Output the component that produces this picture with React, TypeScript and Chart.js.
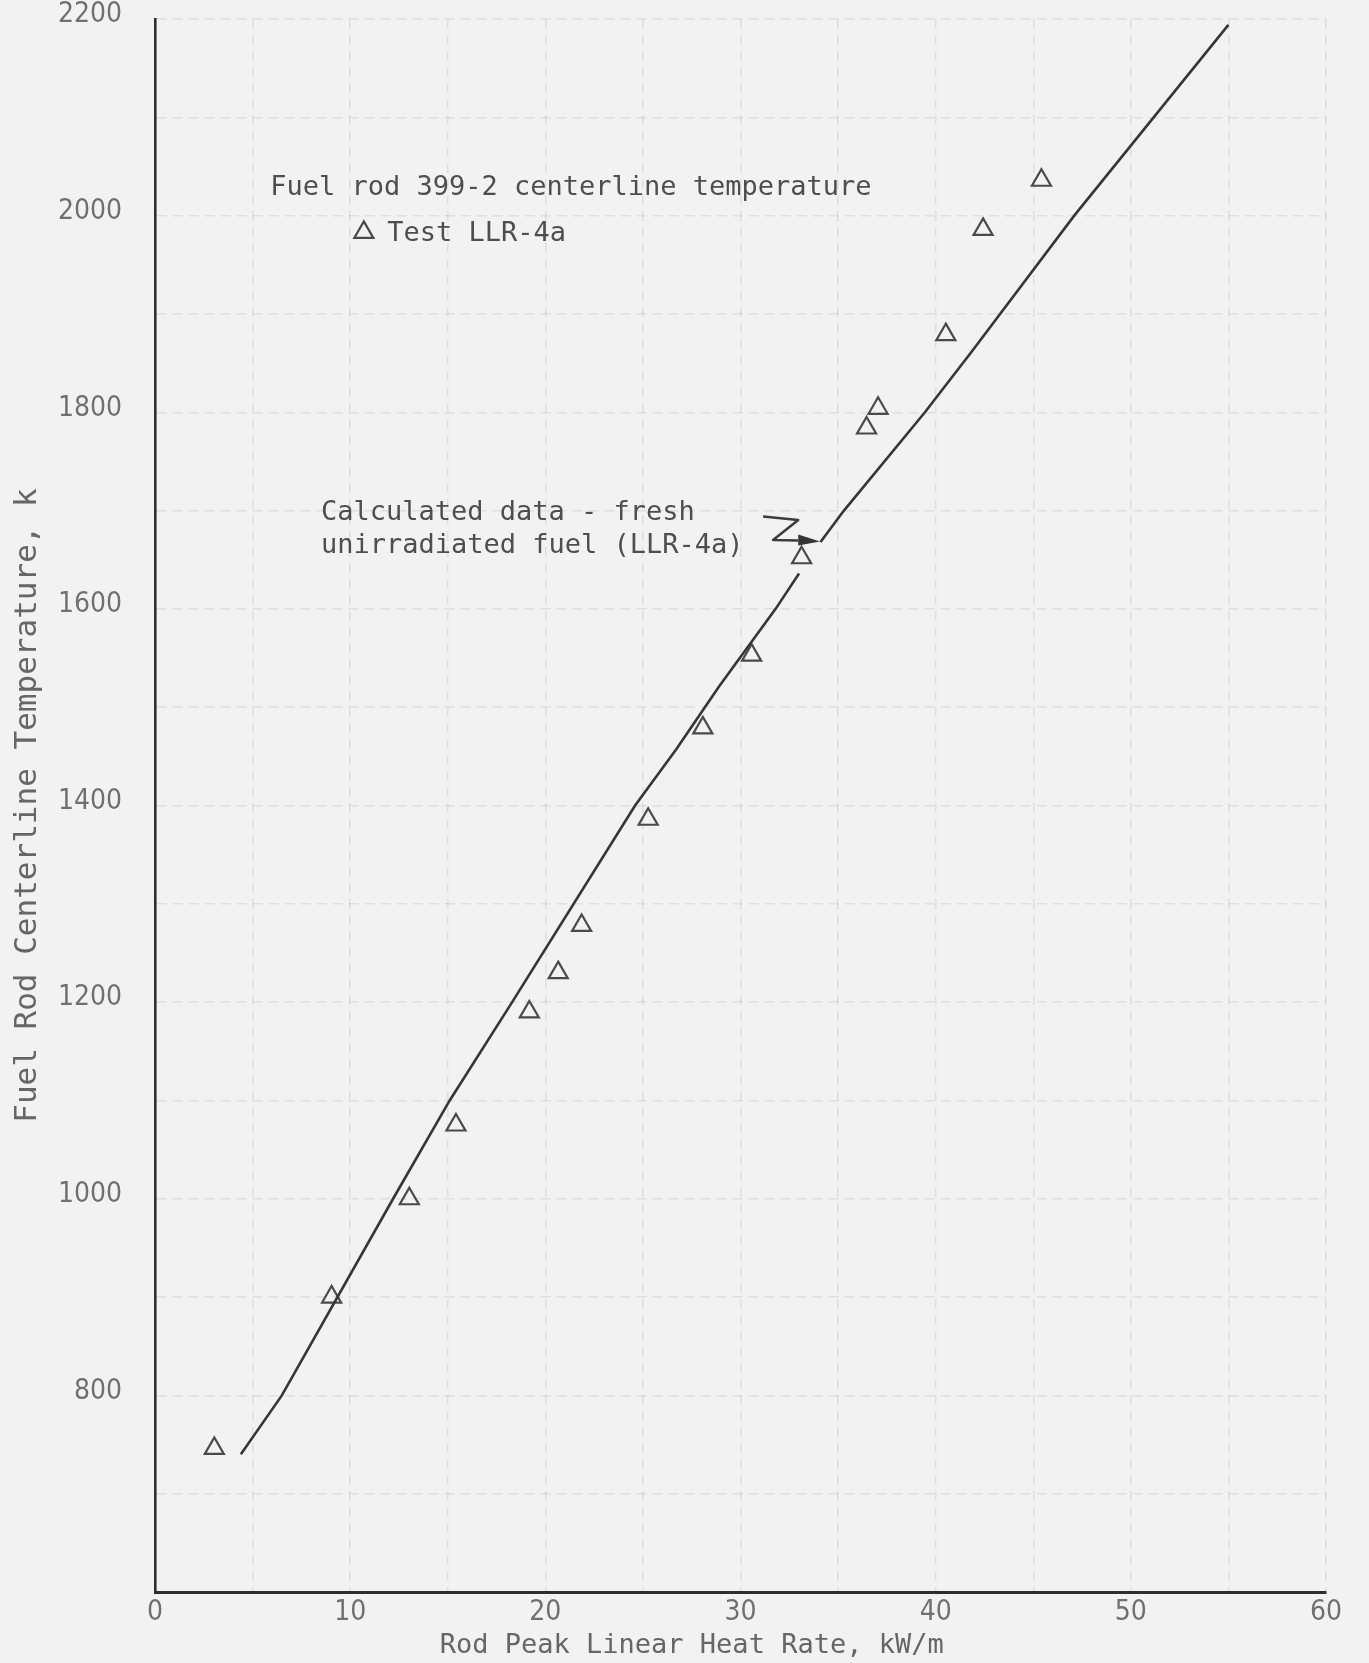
import React, { useEffect, useRef } from 'react';
import { Chart, registerables } from 'chart.js';

Chart.register(...registerables);

// Measured fuel rod centerline temperatures (Test LLR-4a)
const testHeatRate = [3.04, 9.05, 13.03, 15.42, 19.18, 20.66, 21.86, 25.27, 28.07, 30.57, 33.13, 36.46, 37.05, 40.52, 42.43, 45.42];
const testTemp = [746, 900, 1000, 1075, 1190, 1230, 1278, 1386, 1479, 1553, 1652, 1784, 1804, 1879, 1986, 2036];

// Calculated curve (fresh unirradiated fuel), with a break in the drawn line near 33.5 kW/m
const calcHeatRate = [4.4, 6.5, 12.2, 15.1, 18.3, 24.6, 26.7, 28.9, 31.8, 33.0, 33.5, 34.1, 35.3, 39.45, 41.9, 47.1, 55.0];
const calcTemp: (number | null)[] = [740, 800, 1000, 1100, 1200, 1400, 1457, 1521, 1600, 1636, null, 1668, 1700, 1800, 1863, 2000, 2194];

// Axis tick settings
const xMin = 0, xMax = 60, xGridStep = 5, xLabelStep = 10;
const yMin = 600, yMax = 2200, yGridStep = 100, yLabelStep = 200, yFirstLabel = 800;

// Annotation texts (anchored in data units)
const noteTexts = ['Fuel rod 399-2 centerline temperature', 'Test LLR-4a', 'Calculated data - fresh', 'unirradiated fuel (LLR-4a)'];
const noteX = [5.9, 11.9, 8.5, 8.5];
const noteY = [2028, 1981, 1698, 1664];
const legendMarkX = 10.7;
const legendMarkY = 1983;

// Hand-drawn pointer squiggle (data units)
const pointerX = [31.16, 32.96, 31.67, 32.96];
const pointerY = [1694, 1690.5, 1670, 1669.5];
const pointerTipX = 34.07;
const pointerTipY = 1668.5;

const BG = '#f2f2f2';
const MONO = '"DejaVu Sans Mono", "Liberation Mono", monospace';
const NARROW = '"Liberation Sans Narrow", "DejaVu Sans Condensed", "DejaVu Sans", sans-serif';

function drawTriangle(ctx: CanvasRenderingContext2D, cx: number, cy: number, r: number) {
  ctx.beginPath();
  for (let i = 0; i < 3; i++) {
    const a = -Math.PI / 2 + (i * 2 * Math.PI) / 3;
    const px = cx + Math.cos(a) * r;
    const py = cy + Math.sin(a) * r;
    if (i === 0) ctx.moveTo(px, py); else ctx.lineTo(px, py);
  }
  ctx.closePath();
  ctx.stroke();
}

const notesPlugin = {
  id: 'notesPlugin',
  beforeDraw(chart: any) {
    const { ctx, width, height } = chart;
    ctx.save();
    ctx.fillStyle = BG;
    ctx.fillRect(0, 0, width, height);
    ctx.restore();
  },
  afterDatasetsDraw(chart: any) {
    const { ctx } = chart;
    const xs = chart.scales.x;
    const ys = chart.scales.y;
    ctx.save();
    ctx.fillStyle = '#4e4e4e';
    ctx.font = '27px ' + MONO;
    ctx.textAlign = 'left';
    ctx.textBaseline = 'middle';
    noteTexts.forEach((t, i) => {
      ctx.fillText(t, xs.getPixelForValue(noteX[i]), ys.getPixelForValue(noteY[i]));
    });
    // legend marker
    ctx.strokeStyle = '#4a4a4a';
    ctx.lineWidth = 2.2;
    drawTriangle(ctx, xs.getPixelForValue(legendMarkX), ys.getPixelForValue(legendMarkY), 11);
    // pointer squiggle
    ctx.strokeStyle = '#3c3c3c';
    ctx.lineWidth = 2.5;
    ctx.lineJoin = 'round';
    ctx.beginPath();
    pointerX.forEach((v, i) => {
      const px = xs.getPixelForValue(v);
      const py = ys.getPixelForValue(pointerY[i]);
      if (i === 0) ctx.moveTo(px, py); else ctx.lineTo(px, py);
    });
    ctx.stroke();
    const bx = xs.getPixelForValue(pointerX[pointerX.length - 1]);
    const by = ys.getPixelForValue(pointerY[pointerY.length - 1]);
    const tx = xs.getPixelForValue(pointerTipX);
    const ty = ys.getPixelForValue(pointerTipY);
    ctx.fillStyle = '#333';
    ctx.beginPath();
    ctx.moveTo(bx, by - 6);
    ctx.lineTo(tx, ty);
    ctx.lineTo(bx, by + 5);
    ctx.closePath();
    ctx.fill();
    ctx.restore();
  },
};

export default function App() {
  const canvasRef = useRef<HTMLCanvasElement | null>(null);

  useEffect(() => {
    document.body.style.margin = '0';
    document.body.style.background = BG;
    const canvas = canvasRef.current;
    if (!canvas) return;

    const testData = testHeatRate.map((x, i) => ({ x, y: testTemp[i] }));
    const calcData = calcHeatRate.map((x, i) => ({ x, y: calcTemp[i] }));

    const chart = new Chart(canvas, {
      type: 'line',
      data: {
        datasets: [
          {
            label: 'Calculated data - fresh unirradiated fuel (LLR-4a)',
            data: calcData as any,
            borderColor: '#363636',
            borderWidth: 2.6,
            pointRadius: 0,
            tension: 0,
            spanGaps: false,
            fill: false,
          },
          {
            label: 'Test LLR-4a',
            data: testData,
            showLine: false,
            pointStyle: 'triangle',
            pointRadius: 11,
            pointBorderWidth: 2.2,
            pointBorderColor: '#4a4a4a',
            pointBackgroundColor: 'rgba(0,0,0,0)',
          },
        ],
      },
      options: {
        responsive: false,
        animation: false,
        layout: { padding: { left: 0, right: 43, top: 19, bottom: 0 } },
        plugins: {
          legend: { display: false },
          tooltip: { enabled: false },
        },
        scales: {
          x: {
            type: 'linear',
            min: xMin,
            max: xMax,
            afterFit: (s: any) => { s.height = 71; s.paddingLeft = 0; s.paddingRight = 0; },
            border: { display: true, color: '#2e2e2e', width: 3, dash: [10, 6] },
            grid: {
              color: 'rgba(0,0,0,0.08)',
              lineWidth: 1.5,
              drawTicks: false,
            },
            ticks: {
              stepSize: xGridStep,
              autoSkip: false,
              maxRotation: 0,
              padding: 4,
              color: '#707070',
              font: { family: NARROW, size: 28 },
              callback: (v: any) => (Number(v) % xLabelStep === 0 ? String(v) : ''),
            },
            title: {
              display: true,
              text: 'Rod Peak Linear Heat Rate, kW/m      ',
              color: '#666',
              font: { family: MONO, size: 27 },
              padding: { top: 0, bottom: 1 },
            },
          },
          y: {
            type: 'linear',
            min: yMin,
            max: yMax,
            afterFit: (s: any) => { s.width = 155; s.paddingTop = 0; s.paddingBottom = 0; },
            border: { display: true, color: '#2e2e2e', width: 2.6, dash: [10, 6] },
            grid: {
              color: 'rgba(0,0,0,0.08)',
              lineWidth: 1.5,
              drawTicks: false,
            },
            ticks: {
              stepSize: yGridStep,
              autoSkip: false,
              padding: 33,
              labelOffset: -4,
              color: '#707070',
              font: { family: NARROW, size: 28 },
              callback: (v: any) => {
                const n = Number(v);
                return n >= yFirstLabel && n % yLabelStep === 0 ? String(n) : '';
              },
            },
            title: {
              display: true,
              text: 'Fuel Rod Centerline Temperature, k',
              color: '#666',
              font: { family: MONO, size: 31 },
              padding: { top: 9, bottom: 0 },
            },
          },
        },
      },
      plugins: [notesPlugin],
    });

    return () => chart.destroy();
  }, []);

  return (
    <div style={{ width: 1369, height: 1663, background: BG }}>
      <canvas ref={canvasRef} width={1369} height={1663} style={{ display: 'block' }} />
    </div>
  );
}
